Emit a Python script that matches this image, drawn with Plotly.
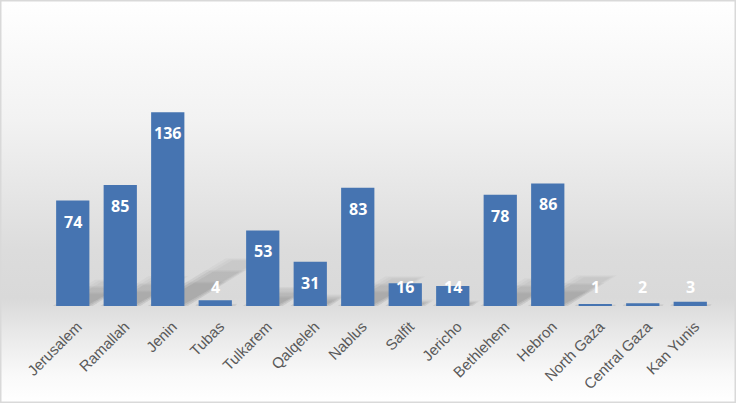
import base64
import plotly.graph_objects as go

categories = ["Jerusalem", "Ramallah", "Jenin", "Tubas", "Tulkarem", "Qalqeleh", "Nablus",
              "Salfit", "Jericho", "Bethlehem", "Hebron", "North Gaza", "Central Gaza", "Kan Yunis"]
values = [74, 85, 136, 4, 53, 31, 83, 16, 14, 78, 86, 1, 2, 3]

W, H = 736, 403
ML, MR, MT, MB = 49, 22, 78, 97
YMAX = 160
plot_h = H - MT - MB
plot_w = W - ML - MR
px_per_y = plot_h / YMAX
px_per_x = plot_w / len(categories)
BAR_W = 0.7
LABEL_OFFSET = 0.1  # horizontal nudge of rotated tick labels (category units)

xs = list(range(len(categories)))

# background gradient as SVG image
svg = f'''<svg xmlns="http://www.w3.org/2000/svg" width="{W}" height="{H}" preserveAspectRatio="none">
<defs><linearGradient id="g" x1="0" y1="0" x2="0" y2="1">
<stop offset="0" stop-color="#ffffff"/>
<stop offset="0.30" stop-color="#f2f2f2"/>
<stop offset="0.62" stop-color="#dcdcdc"/>
<stop offset="0.74" stop-color="#d9d9d9"/>
<stop offset="0.83" stop-color="#e9e9e9"/>
<stop offset="0.93" stop-color="#f9f9f9"/>
<stop offset="1" stop-color="#ffffff"/>
</linearGradient></defs>
<rect x="0" y="0" width="{W}" height="{H}" fill="url(#g)"/>
<rect x="0.5" y="0.5" width="{W-1}" height="{H-1}" fill="none" stroke="#d9d9d9" stroke-width="2"/>
</svg>'''
src = "data:image/svg+xml;base64," + base64.b64encode(svg.encode()).decode()

fig = go.Figure()
fig.add_trace(go.Bar(
    x=xs, y=values, width=BAR_W,
    marker=dict(color="#4674b1", line=dict(width=0)),
    hoverinfo="y",
))

shapes = []
# perspective shadows (soft, fading upward, via stacked translucent polygons)
for i, v in enumerate(values):
    hpx = v * px_per_y
    dy_full = 0.24 * v
    dx_full = 0.40 * hpx / px_per_x
    xl, xr = i - BAR_W / 2, i + BAR_W / 2
    for frac in (1.0, 0.75, 0.5):
        dy = dy_full * frac
        dx = dx_full * frac
        for grow in (0.07, 0.0, -0.07):
            path = (f"M {xl - grow},{0} L {xr + grow},{0} "
                    f"L {xr + dx + grow},{dy + grow * 10} L {xl + dx - grow},{dy + grow * 10} Z")
            shapes.append(dict(type="path", xref="x", yref="y", path=path,
                               fillcolor="#404040", opacity=0.04, line=dict(width=0),
                               layer="below"))

annotations = []
for i, v in enumerate(values):
    shift = max(v * px_per_y - 21, 19)
    annotations.append(dict(x=i, y=0, xref="x", yref="y", text=str(v), showarrow=False,
                            yanchor="middle", yshift=shift,
                            font=dict(family="Open Sans", size=16, color="white", weight="bold")))

fig.update_layout(
    width=W, height=H,
    margin=dict(l=ML, r=MR, t=MT, b=MB),
    paper_bgcolor="rgba(0,0,0,0)",
    plot_bgcolor="rgba(0,0,0,0)",
    showlegend=False,
    bargap=0.3,
    images=[dict(source=src, xref="paper", yref="paper", x=-ML / plot_w, y=1 + MT / plot_h,
                 sizex=W / plot_w, sizey=H / plot_h, sizing="stretch", xanchor="left",
                 yanchor="top", layer="below")],
    shapes=shapes,
    annotations=annotations,
    xaxis=dict(range=[-0.5, len(categories) - 0.5], tickmode="array",
               tickvals=[x + LABEL_OFFSET for x in xs],
               ticktext=categories, tickangle=-45, showgrid=False, zeroline=False,
               showline=False, ticks="outside", ticklen=5, tickcolor="rgba(0,0,0,0)",
               automargin=False,
               tickfont=dict(family="Liberation Sans", size=15, color="#595959")),
    yaxis=dict(range=[0, YMAX], visible=False, showgrid=False, zeroline=False, automargin=False),
    font=dict(family="Liberation Sans"),
)

fig.write_html("out.html", config={"displayModeBar": False},
               post_script="document.body.style.margin='0';")
